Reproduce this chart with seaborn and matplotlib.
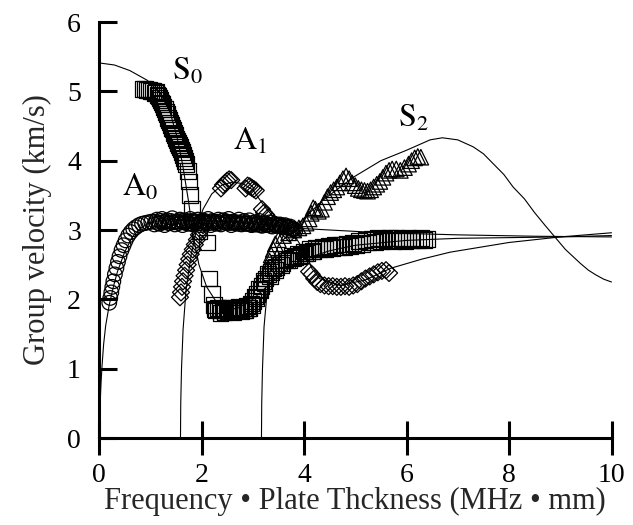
import matplotlib
matplotlib.use("Agg")
import matplotlib.pyplot as plt
import seaborn as sns
import pandas as pd

# ---- theoretical group-velocity curves (frequency*thickness [MHz*mm], velocity [km/s]) ----
a0_fd = [0.0, 0.02, 0.04, 0.06, 0.09, 0.13, 0.2, 0.28, 0.36, 0.5, 0.65, 0.8, 0.95, 1.15, 1.4,
         1.7, 2.0, 2.5, 3.0, 3.5, 4.0, 4.5, 5.5, 7.0, 8.5, 10.0]
a0_vg = [0.0, 0.45, 0.8, 1.05, 1.35, 1.62, 1.92, 2.18, 2.4, 2.68, 2.9, 3.02, 3.09, 3.13, 3.15,
         3.15, 3.14, 3.12, 3.09, 3.06, 3.02, 3.0, 2.96, 2.93, 2.91, 2.9]

s0_fd = [0.0, 0.3, 0.6, 0.94, 1.19, 1.39, 1.52, 1.63, 1.75, 1.84, 1.95, 2.1, 2.3, 2.5, 2.7,
         3.0, 3.3, 3.6, 4.0, 4.5, 5.0, 6.0, 7.0, 8.0, 9.0, 10.0]
s0_vg = [5.41, 5.38, 5.3, 5.16, 4.98, 4.69, 4.35, 3.95, 3.4, 2.9, 2.5, 2.18, 1.95, 1.85, 1.87,
         2.0, 2.2, 2.4, 2.58, 2.7, 2.78, 2.85, 2.88, 2.89, 2.9, 2.92]

a1_fd = [1.59, 1.595, 1.61, 1.64, 1.7, 1.8, 1.9, 2.03, 2.2, 2.4, 2.6, 2.8, 3.0, 3.28, 3.5,
         3.79, 4.0, 4.15, 4.3, 4.7, 5.2, 5.7, 6.3, 6.85, 8.0, 9.0, 10.0]
a1_vg = [0.0, 0.5, 1.0, 1.56, 2.15, 2.65, 3.0, 3.3, 3.52, 3.65, 3.69, 3.67, 3.58, 3.29, 3.12,
         2.95, 2.7, 2.45, 2.3, 2.2, 2.28, 2.45, 2.58, 2.68, 2.82, 2.9, 2.96]

s2_fd = [3.17, 3.175, 3.19, 3.22, 3.28, 3.36, 3.5, 3.86, 4.37, 4.96, 5.5, 6.0, 6.46, 6.7, 7.0,
         7.3, 7.5, 7.7, 7.9, 8.08, 8.3, 8.5, 8.7, 8.86, 9.1, 9.39, 9.55, 9.7, 9.85, 10.0]
s2_vg = [0.0, 0.5, 1.0, 1.6, 2.1, 2.5, 2.78, 3.07, 3.43, 3.76, 4.0, 4.15, 4.3, 4.33, 4.3,
         4.2, 4.1, 3.95, 3.8, 3.62, 3.45, 3.25, 3.07, 2.93, 2.72, 2.52, 2.42, 2.35, 2.29, 2.25]

# ---- measured points ----
a0_meas_fd = [0.20, 0.22, 0.24, 0.26, 0.28, 0.31, 0.34, 0.37, 0.40, 0.44, 0.48, 0.52, 0.57, 0.62,
              0.67, 0.72, 0.78, 0.84, 0.90, 0.96, 1.02, 1.08, 1.13, 1.18, 1.23, 1.28, 1.33, 1.38,
              1.43, 1.48, 1.53, 1.58, 1.63, 1.68, 1.73, 1.78, 1.83, 1.88, 1.93, 1.98, 2.03, 2.08,
              2.13, 2.18, 2.23, 2.28, 2.33, 2.38, 2.43, 2.48, 2.53, 2.58, 2.63, 2.68, 2.73, 2.78,
              2.83, 2.88, 2.93, 2.98, 3.03, 3.08, 3.13, 3.18, 3.23, 3.28, 3.33, 3.38, 3.43, 3.48,
              3.53, 3.58, 3.63, 3.68, 3.73, 3.78, 3.83,
              1.105, 1.155, 1.205, 1.255, 1.305, 1.355, 1.405, 1.455, 1.505, 1.555, 1.605, 1.655,
              1.705, 1.755, 1.805, 1.855, 1.905, 1.955, 2.005, 2.055, 2.105, 2.155, 2.205, 2.255,
              2.305, 2.355, 2.405, 2.455, 2.505, 2.555, 2.605, 2.655, 2.705, 2.755, 2.805, 2.855,
              2.905, 2.955, 3.005, 3.055, 3.105, 3.155, 3.205, 3.255, 3.305, 3.355, 3.405, 3.455,
              3.505, 3.555, 3.605, 3.655, 3.705, 3.755, 3.805]
a0_meas_vg = [1.95, 2.02, 2.10, 2.18, 2.26, 2.36, 2.45, 2.54, 2.62, 2.71, 2.78, 2.85, 2.92, 2.97,
              3.01, 3.04, 3.07, 3.09, 3.10, 3.11, 3.12, 3.08, 3.15, 3.09, 3.16, 3.07, 3.14, 3.10,
              3.17, 3.08, 3.12, 3.15, 3.07, 3.14, 3.09, 3.16, 3.08, 3.12, 3.15, 3.07, 3.14, 3.10,
              3.16, 3.07, 3.12, 3.09, 3.15, 3.08, 3.14, 3.10, 3.16, 3.07, 3.12, 3.09, 3.15, 3.08,
              3.13, 3.09, 3.14, 3.07, 3.11, 3.08, 3.13, 3.06, 3.10, 3.07, 3.11, 3.05, 3.09, 3.06,
              3.08, 3.04, 3.07, 3.03, 3.05, 3.01, 2.99,
              3.12, 3.10, 3.13, 3.11, 3.12, 3.10, 3.13, 3.11, 3.12, 3.10, 3.13, 3.11,
              3.12, 3.10, 3.13, 3.11, 3.12, 3.10, 3.13, 3.11, 3.12, 3.10, 3.13, 3.11,
              3.12, 3.10, 3.13, 3.11, 3.12, 3.10, 3.12, 3.10, 3.11, 3.09, 3.11, 3.09,
              3.10, 3.08, 3.10, 3.08, 3.09, 3.07, 3.09, 3.07, 3.08, 3.06, 3.08, 3.06,
              3.07, 3.05, 3.06, 3.04, 3.04, 3.02, 3.01]

s0_meas_fd = [0.86, 0.90, 0.94, 0.98, 1.02, 1.06, 1.10, 1.14, 1.18, 1.22, 1.26, 1.30, 1.34, 1.38,
              1.42, 1.46, 1.50, 1.54, 1.58, 1.62, 1.66, 1.70, 1.73, 1.75, 1.78, 1.81, 1.84, 1.96,
              2.10, 2.14, 2.20, 2.25, 2.29, 2.33, 2.37, 2.41, 2.45, 2.49, 2.53, 2.57, 2.61, 2.65,
              2.69, 2.73, 2.77, 2.81, 2.85, 2.89, 2.93, 2.97, 3.01, 3.05, 3.09, 3.13, 3.17, 3.21,
              3.25, 3.30, 3.35, 3.40, 3.46, 3.52, 3.58, 3.64, 3.70, 3.76, 3.82, 3.88, 3.94, 4.00,
              4.06, 4.12, 4.18, 4.24, 4.30, 4.36, 4.42, 4.48, 4.54, 4.60, 4.66, 4.72, 4.78, 4.84,
              4.90, 4.96, 5.02, 5.08, 5.14, 5.20, 5.26, 5.32, 5.38, 5.44, 5.50, 5.56, 5.62, 5.68,
              5.74, 5.80, 5.86, 5.92, 5.98, 6.04, 6.10, 6.16, 6.22, 6.28, 6.34, 6.40,
              1.12, 1.16, 1.20, 1.24, 1.28, 1.32, 1.36, 1.40, 1.44, 1.48, 1.52, 1.56, 1.60, 1.64,
              1.68, 2.27, 2.35, 2.43, 2.51, 2.59, 2.67, 2.75, 2.83, 2.91, 2.99, 3.07, 3.15, 3.23,
              3.33, 3.43, 3.55, 3.67, 3.79, 3.91, 4.03, 4.15]
s0_meas_vg = [5.03, 5.03, 5.02, 5.02, 5.01, 5.00, 4.98, 4.95, 4.90, 4.84, 4.77, 4.70, 4.62, 4.55,
              4.47, 4.40, 4.32, 4.26, 4.20, 4.12, 4.04, 3.95, 3.85, 3.70, 3.50, 3.30, 3.12, 2.98,
              2.82, 2.30, 2.08, 1.92, 1.84, 1.88, 1.80, 1.86, 1.82, 1.88, 1.83, 1.87, 1.81, 1.86,
              1.84, 1.89, 1.83, 1.87, 1.85, 1.90, 1.88, 1.94, 1.98, 2.04, 2.08, 2.15, 2.19, 2.26,
              2.30, 2.36, 2.39, 2.45, 2.47, 2.52, 2.53, 2.58, 2.57, 2.62, 2.61, 2.66, 2.64, 2.69,
              2.67, 2.72, 2.70, 2.74, 2.72, 2.76, 2.73, 2.77, 2.74, 2.78, 2.75, 2.79, 2.76, 2.80,
              2.77, 2.81, 2.78, 2.84, 2.80, 2.86, 2.82, 2.87, 2.83, 2.88, 2.84, 2.87, 2.85, 2.89,
              2.84, 2.88, 2.85, 2.87, 2.84, 2.88, 2.86, 2.87, 2.85, 2.88, 2.86, 2.87,
              4.99, 4.93, 4.88, 4.82, 4.74, 4.67, 4.59, 4.51, 4.45, 4.37, 4.29, 4.23, 4.16, 4.08,
              4.00, 1.86, 1.84, 1.85, 1.83, 1.85, 1.84, 1.86, 1.85, 1.87, 1.92, 2.02, 2.14, 2.24,
              2.34, 2.42, 2.50, 2.56, 2.60, 2.63, 2.66, 2.69]

a1_meas_fd = [1.58, 1.60, 1.62, 1.64, 1.67, 1.70, 1.73, 1.76, 1.79, 1.83, 1.87, 1.91, 1.95, 1.99,
              2.03, 2.38, 2.42, 2.46, 2.50, 2.54, 2.58, 2.86, 2.90, 2.94, 2.98, 3.02, 3.06, 3.18,
              3.22, 3.26, 3.30, 3.55, 3.72, 4.10, 4.15, 4.20, 4.26, 4.32, 4.40, 4.48, 4.56, 4.64,
              4.72, 4.80, 4.88, 4.96, 5.04, 5.12, 5.20, 5.28, 5.36, 5.44, 5.52, 5.60, 5.66]
a1_meas_vg = [2.03, 2.10, 2.18, 2.26, 2.34, 2.42, 2.50, 2.58, 2.65, 2.72, 2.79, 2.86, 2.93, 3.00,
              3.07, 3.60, 3.65, 3.68, 3.71, 3.73, 3.72, 3.60, 3.64, 3.63, 3.61, 3.59, 3.57, 3.30,
              3.25, 3.22, 3.18, 3.05, 2.95, 2.40, 2.36, 2.30, 2.25, 2.22, 2.20, 2.19, 2.19, 2.18,
              2.18, 2.19, 2.18, 2.20, 2.22, 2.26, 2.30, 2.33, 2.36, 2.39, 2.41, 2.42, 2.38]

s2_meas_fd = [3.30, 3.33, 3.36, 3.40, 3.44, 3.50, 3.60, 3.70, 3.80, 3.90, 3.98, 4.04, 4.10, 4.14,
              4.18, 4.22, 4.28, 4.34, 4.40, 4.46, 4.52, 4.58, 4.64, 4.70, 4.76, 4.82, 4.88, 4.94,
              5.00, 5.06, 5.12, 5.18, 5.24, 5.30, 5.36, 5.42, 5.48, 5.54, 5.60, 5.66, 5.72, 5.80,
              5.88, 5.96, 6.04, 6.10, 6.16, 6.22, 6.28]
s2_meas_vg = [2.45, 2.55, 2.64, 2.72, 2.80, 2.86, 2.92, 2.96, 3.00, 3.03, 3.06, 3.10, 3.16, 3.24,
              3.32, 3.30, 3.27, 3.30, 3.40, 3.48, 3.54, 3.58, 3.62, 3.68, 3.74, 3.78, 3.74, 3.68,
              3.64, 3.60, 3.58, 3.57, 3.56, 3.58, 3.62, 3.66, 3.70, 3.76, 3.82, 3.86, 3.88, 3.88,
              3.86, 3.90, 3.95, 4.00, 4.04, 4.06, 4.05]

mode_labels = [r"$\mathrm{S}_0$", r"$\mathrm{A}_1$", r"$\mathrm{A}_0$", r"$\mathrm{S}_2$"]
label_fd = [1.42, 2.61, 0.45, 5.83]
label_vg = [5.17, 4.15, 3.50, 4.49]

sns.set_theme(style="ticks")
plt.rcParams["font.family"] = ["Liberation Serif", "DejaVu Serif"]
plt.rcParams["mathtext.fontset"] = "stix"
plt.rcParams["lines.solid_joinstyle"] = "round"

fig = plt.figure(figsize=(6.33, 5.25), dpi=100)
ax = fig.add_axes([99 / 633, 87 / 525, 512.5 / 633, 416 / 525])

for fd, vg in [(a0_fd, a0_vg), (s0_fd, s0_vg), (a1_fd, a1_vg), (s2_fd, s2_vg)]:
    sns.lineplot(x=fd, y=vg, sort=False, estimator=None, color="black",
                 linewidth=0.8, ax=ax, legend=False)

meas = [
    (a0_meas_fd, a0_meas_vg, "o", 110),
    (s0_meas_fd, s0_meas_vg, "s", 130),
    (a1_meas_fd, a1_meas_vg, "D", 75),
    (s2_meas_fd, s2_meas_vg, "^", 125),
]
for fd, vg, mk, size in meas:
    df = pd.DataFrame({"fd": fd, "vg": vg})
    sns.scatterplot(data=df, x="fd", y="vg", marker=mk, s=size, facecolors="none",
                    edgecolor="black", linewidth=0.9, ax=ax, legend=False, zorder=3)

for txt, xx, yy in zip(mode_labels, label_fd, label_vg):
    ax.text(xx, yy, txt, fontsize=23, ha="left", va="baseline", color="black")

ax.set_xlim(0, 10)
ax.set_ylim(0, 6)
ax.set_xticks([0, 2, 4, 6, 8, 10])
ax.set_yticks([0, 1, 2, 3, 4, 5, 6])
ax.set_xlabel("Frequency \u2022 Plate Thckness (MHz \u2022 mm)", fontsize=22, labelpad=-1)
ax.set_ylabel("Group velocity (km/s)", fontsize=22, labelpad=11)

for side in ["top", "right"]:
    ax.spines[side].set_visible(False)
for side in ["left", "bottom"]:
    ax.spines[side].set_linewidth(2.2)
    ax.spines[side].set_color("black")

ax.tick_params(axis="x", direction="inout", length=24.5, width=2.2, pad=6,
               labelsize=20, colors="black")
ax.tick_params(axis="y", direction="in", length=13, width=2.2, pad=13,
               labelsize=20, colors="black")

fig.savefig("out.png", dpi=100)
